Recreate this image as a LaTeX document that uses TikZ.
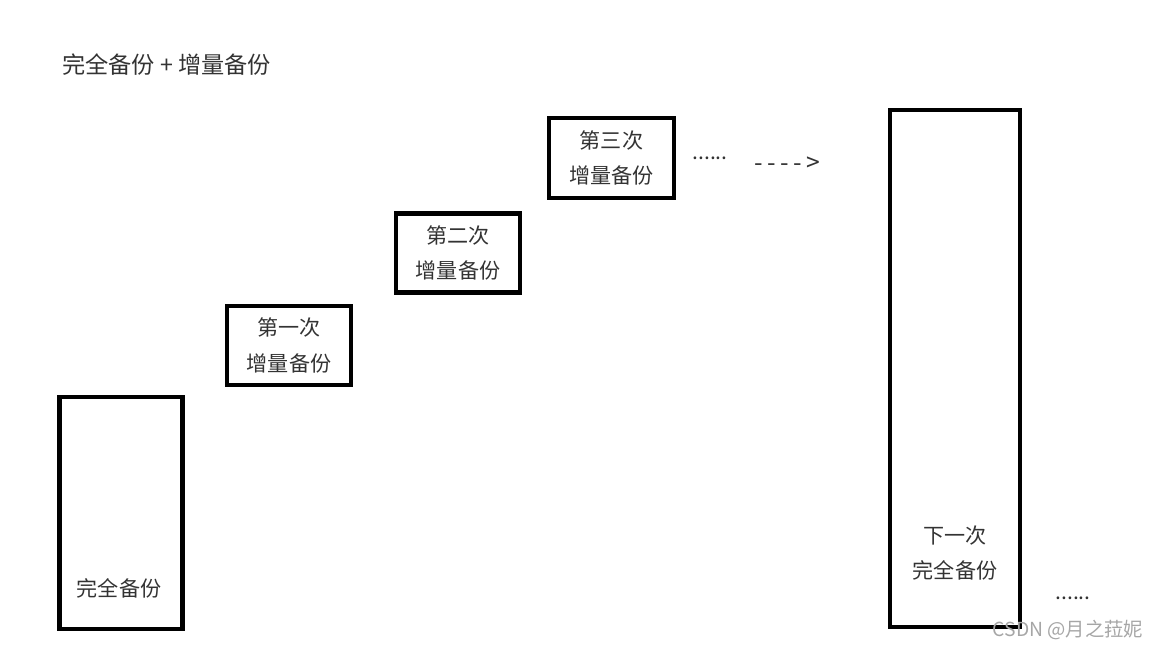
\documentclass[tikz,border=0pt]{standalone}
\usepackage{fontspec}
\setmainfont{Noto Sans CJK SC}
\usetikzlibrary{positioning}

\begin{document}
\begin{tikzpicture}[x=0.02cm,y=-0.02cm,
  bk/.style={draw,line width=2.7pt,inner sep=0pt},
  lbl/.style={text=black!80,font=\fontsize{12}{20.4}\selectfont,align=center}]
  \useasboundingbox (0,0) rectangle (1152,648);
  \node (title) [lbl,anchor=west,font=\fontsize{13.2}{16}\selectfont] at (56,65) {完全备份 + 增量备份};

  % backups
  \node (full) [bk,minimum width=2.46cm,minimum height=4.64cm] at (121,513) {};
  \node (fullt) [lbl] at (119,588) {完全备份};
  \node (inc1) [bk,lbl,minimum width=2.48cm,minimum height=1.58cm] at (289,345.5) {第一次\\增量备份};
  \node (inc2) [bk,lbl,minimum width=2.48cm,minimum height=1.58cm] at (458,253) {第二次\\增量备份};
  \node (inc3) [bk,lbl,minimum width=2.5cm,minimum height=1.6cm] at (611.5,158) {第三次\\增量备份};
  \node (next) [bk,minimum width=2.6cm,minimum height=10.34cm] at (955,368.5) {};
  \node (nextt) [lbl] at (955,553) {下一次\\完全备份};

  % more
  \node (dots) [lbl] at (710,158) {......};
  \node (more) [lbl,font=\fontsize{14}{16}\selectfont] at (787,164) {{-}\kern2.5pt{-}\kern2.5pt{-}\kern2.5pt{-}\kern2.5pt{>}};
  \node (dots2) [lbl] at (1073,598) {......};
  \node (mark) [text=black!35,font=\fontsize{11}{13}\selectfont] at (1068,630) {CSDN @月之菈妮};
\end{tikzpicture}
\end{document}
